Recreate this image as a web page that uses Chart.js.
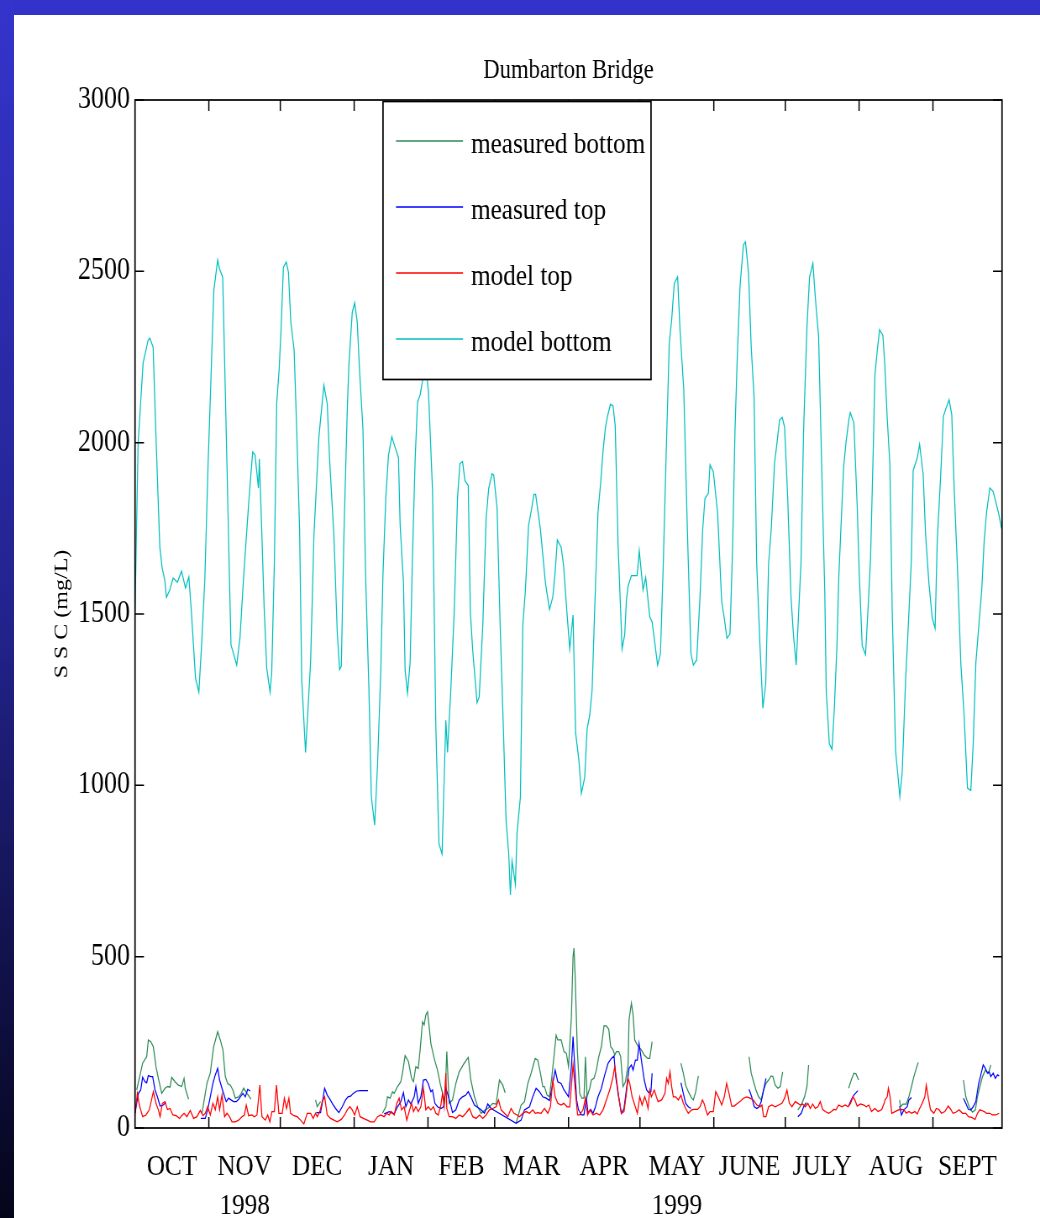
<!DOCTYPE html>
<html><head><meta charset="utf-8">
<script src="https://cdn.jsdelivr.net/npm/chart.js@4.4.1/dist/chart.umd.min.js"></script>
<style>
html,body{margin:0;padding:0;width:1040px;height:1218px;overflow:hidden;background:#fff;}
#wrap{position:absolute;left:0;top:0;height:1218px;transform-origin:0 0;}
#topbar{position:absolute;left:0;top:0;width:1040px;height:15px;background:#3333cc;}
#leftbar{position:absolute;left:0;top:0;width:14px;height:1218px;background:linear-gradient(#3434cc,#23238f 50%,#05051a);}
</style></head><body>
<div id="wrap"><canvas id="c"></canvas></div>
<div id="topbar"></div><div id="leftbar"></div>
<script>
// ---------- data ----------
const monthLabels = ['OCT','NOV','DEC','JAN','FEB','MAR','APR','MAY','JUNE','JULY','AUG','SEPT'];
const monthStarts = [0,31,61,92,123,151,182,212,243,273,304,335,364]; // days since 1 Oct 1998
const yearLabels = ['1998','1999'];
const yearMonthIndex = [1,7];
const yTicks = [0,500,1000,1500,2000,2500,3000];
const seriesLabels = ['measured bottom','measured top','model top','model bottom'];

// [day, SSC mg/L]; measured series are lists of continuous segments
const measuredBottom = [
 [[0.7,111],[3.2,189],[4.9,208],[5.6,257],[6.6,252],[7.7,237],[8.8,179],[9.8,145],[11.2,101],[12.6,116],[13.8,121],[14.7,119],[15.4,148],[16.8,135],[18.2,125],[19.6,121],[20.6,145],[21.1,116],[22.5,84]],
 [[28.1,43],[30.2,130],[31.6,160],[33,237],[34.7,281],[35.8,257],[36.9,228],[37.9,150],[38.9,130],[40,125],[41.1,111],[42.1,87],[43.5,91],[44.6,101],[45.6,116],[47,101],[48.7,84]],
 [[75.8,82],[76.5,62],[77.9,77]],
 [[103.9,43],[105.3,62],[106,91],[107.1,87],[108.1,106],[108.8,101],[110.2,121],[111.6,135],[112.3,160],[113.4,211],[114.8,194],[116.1,145],[116.9,135],[117.9,179],[118.9,174],[119.7,228],[120.7,310],[121.4,301],[122.1,330],[122.8,339],[123.5,296],[124.2,247],[125.6,203],[127,169],[128.1,130],[129.1,101],[130.1,77],[130.9,223],[131.9,72],[133.3,82],[134.7,130],[136.1,164],[138.2,189],[139.9,206],[141,140],[142.5,91],[143.9,62],[145.3,43],[146.7,51],[148.1,57],[150.2,72],[151.6,70],[153,140],[154.4,125],[155.4,103]],
 [[160,14],[162.1,67],[163.5,77],[164.9,130],[166.3,160],[168,203],[169.1,198],[170.2,160],[171.2,121],[171.9,121],[173,96],[174,91],[175,150],[175.9,208],[176.8,271],[177.5,257],[178.9,257],[180.1,223],[181.1,218],[182,179],[183.2,325],[183.9,500],[184.3,525],[184.8,442],[185.7,228],[186.7,101],[187.6,87],[188.5,87],[189.1,208],[189.8,91],[190.9,116],[191.6,140],[192.7,145],[193.7,169],[194.7,208],[195.8,237],[196.9,298],[197.9,298],[198.9,288],[199.7,237],[200.7,228],[201.4,213],[202.1,223],[203.1,223],[203.9,208],[204.9,121],[205.9,135],[207,184],[207.4,315],[208.4,364],[209.1,330],[209.8,257],[210.9,242],[212.6,228],[213.8,213],[215.2,203],[216.1,203],[217.1,252]],
 [[229.2,189],[230.2,160],[231.2,125],[232.3,106],[233.7,87],[234.4,82],[235.4,106],[236.5,152]],
 [[257.8,208],[258.7,160],[259.7,135],[260.7,111],[261.8,91],[262.9,82],[263.9,111],[264.9,130],[266,140],[267.1,152],[267.8,150],[268.8,125],[269.9,116],[270.9,121],[271.9,164]],
 [[278.3,53],[279.7,67],[281.1,91],[282.1,121],[282.8,184]],
 [[299.6,116],[300.7,140],[301.8,160],[302.7,158],[303.8,140]],
 [[321,82],[321.4,62],[322.4,70],[323.8,70],[324.9,91],[326,121],[327,150],[328,174],[328.8,191]],
 [[347.8,140],[348.8,91],[350.2,62],[351.6,46],[352.8,53],[353.7,91],[354.7,121],[355.8,150],[357,169],[358.3,160],[359.3,184]]
];

const measuredTop = [
 [[0,43],[1.4,101],[2.4,111],[3.2,148],[4.2,135],[4.9,132],[5.6,153],[6.6,150],[7.4,150],[8.4,111],[9.4,91],[10.5,64],[11.9,67],[12.9,74]],
 [[27.6,28],[29.5,28],[30.5,53],[31.6,91],[32.7,130],[33.7,155],[34.7,174],[35.5,140],[36.5,116],[37.6,91],[38.3,77],[39.3,87],[40.3,82],[41.4,77],[42.5,77],[43.5,84],[44.2,91],[45.3,101],[46.3,91],[47.3,113],[48.4,108]],
 [[76.1,45],[77.9,45],[78.6,72],[79.6,116],[80.7,96],[81.8,84],[82.8,72],[84.2,57],[85.6,45],[87,62],[88.4,82],[89.4,91],[90.5,93],[91.6,101],[93.1,108],[94.7,109],[97.8,109]],
 [[104.6,41],[106.7,48],[108.8,41],[110.2,62],[111.6,77],[112.7,103],[113.7,62],[114.8,82],[115.8,70],[117.2,91],[117.9,121],[118.9,72],[120,91],[121.1,140],[122.1,142],[123.1,130],[124.2,106],[124.9,111],[125.9,72],[127,62],[128.4,57],[129.5,62],[130.5,116],[131.2,101],[132.4,72],[133.3,45],[134.7,53],[136.1,82],[137.5,91],[138.9,96],[139.9,106],[141,91],[142.5,67],[143.9,60],[145.3,53],[146.7,43],[148.1,70],[149.5,57],[160,14],[162.1,23],[163.5,53],[165.6,62],[167,91],[168.4,116],[169.8,106],[171.2,91],[172.6,87],[174,80],[175.4,130],[176.4,169],[177.5,135],[178.9,130],[180.1,111],[181.1,101],[182,91],[183.2,179],[183.9,267],[185.4,82],[186.2,53],[187.4,38],[188.5,38],[189.5,87],[190.2,43],[191.3,54],[192.3,43],[193.3,62],[194.4,91],[195.8,116],[197.2,155],[198.6,189],[200,203],[201.1,210],[201.8,150],[202.8,101],[204.2,43],[205.3,57],[206.3,111],[207.4,174],[208.4,184],[209.1,169],[210.1,198],[210.9,198],[211.6,247],[212.6,198],[213.8,140],[214.8,111],[215.7,103],[216.6,106],[217.1,160]],
 [[229.2,132],[230.2,101],[231.2,72],[232.3,62],[233.4,57]],
 [[257.8,113],[258.9,91],[260,62],[261.1,57],[262,62],[262.9,77],[263.9,111],[264.9,145]],
 [[278.3,33],[279.7,43],[280.7,62],[281.8,74]],
 [[299.6,64],[300.7,82],[301.8,96],[303.5,109]],
 [[321,64],[321.8,38],[322.8,53],[324.2,62],[324.9,82],[326,89]],
 [[347.8,87],[348.8,72],[349.9,54],[350.9,53],[351.9,62],[353,77],[354.2,130],[355.1,155],[356.1,184],[357,174],[357.9,160],[358.6,164],[359.3,150],[360.3,160],[361.2,145],[362.1,155],[362.8,152]]
];

const modelTop = [[0,43],[1,101],[1.8,67],[3.2,33],[4.6,38],[6,53],[7.7,106],[8.8,72],[9.8,53],[10.5,33],[11.5,72],[12.6,77],[13.6,54],[14.7,57],[15.9,38],[17.3,36],[18.7,28],[19.6,36],[20.6,43],[21.8,33],[23.2,51],[24.6,28],[26,33],[27.4,51],[28.5,36],[29.5,43],[30.5,62],[31.6,38],[32.7,72],[33.7,53],[34.7,91],[35.5,53],[36.5,96],[37.6,33],[38.6,43],[39.7,33],[40.7,18],[42.1,18],[43.5,23],[44.9,33],[45.9,38],[46.7,67],[47.7,36],[49.1,38],[50.1,33],[51.2,38],[52.4,125],[53.3,33],[54.7,23],[55.7,38],[56.6,18],[57.5,48],[58.5,48],[59.4,125],[60.4,43],[61.8,43],[62.7,87],[63.6,57],[64.6,87],[65.3,43],[66.7,36],[68.1,33],[69.5,23],[70.9,12],[72.3,43],[73.7,43],[74.8,28],[75.8,43],[76.5,33],[77.6,48],[78.6,77],[79.6,91],[80.7,38],[82.1,28],[83.5,23],[84.9,18],[86.6,25],[88,38],[89.1,53],[90.2,62],[91.2,53],[92.2,38],[93.3,62],[94.5,33],[95.9,28],[97.5,23],[98.9,18],[100.4,18],[101.8,33],[103.2,38],[104.6,33],[105.7,43],[106.7,38],[107.6,48],[108.8,38],[109.9,72],[110.9,87],[111.9,53],[113,62],[114.1,23],[115.1,48],[116.1,72],[116.9,48],[117.9,62],[118.9,48],[120,62],[121.1,116],[122.1,53],[123.1,62],[124.2,53],[125.3,62],[126.3,43],[127.3,38],[128.4,67],[129.1,101],[129.8,62],[130.5,160],[130.9,57],[131.9,33],[133.3,33],[134.7,28],[136.1,38],[137.5,33],[138.9,43],[140.4,57],[141.8,33],[143.2,28],[144.6,38],[146,28],[147.4,38],[148.8,53],[150.2,57],[151.6,62],[152.6,82],[153.7,53],[155.1,43],[156.5,33],[157.9,57],[159.1,43],[160.4,38],[161.4,33],[162.8,43],[164.2,48],[165.6,43],[167,53],[168,43],[169.1,45],[170.5,43],[171.9,57],[173.3,43],[174.4,62],[175.4,140],[176.4,91],[177.5,72],[178.9,67],[180,72],[181.4,62],[182.5,62],[183.9,184],[185.8,38],[186.7,38],[188.1,53],[189.1,87],[190,38],[191,53],[192.3,38],[193.7,43],[195.1,38],[196.5,53],[197.9,82],[199.3,111],[200.7,150],[201.4,179],[202.1,145],[203.1,91],[204.2,43],[205.3,48],[206.3,101],[207,145],[207.7,130],[208.7,91],[209.8,67],[210.9,43],[211.9,91],[212.9,67],[214,91],[214.7,77],[215.4,57],[216.1,111],[216.8,91],[218,111],[218.9,91],[219.6,77],[221.1,82],[222.5,101],[223.2,145],[223.9,130],[224.6,164],[225.3,121],[226,91],[227,91],[228.1,82],[229.2,96],[230.2,72],[231.2,57],[232.3,43],[233.7,53],[234.8,54],[236.2,54],[237.2,62],[238.2,82],[239,70],[239.6,54],[240.4,38],[241.4,48],[242.8,48],[243.8,106],[244.9,91],[246.3,67],[247.4,91],[248.4,130],[249.4,101],[250.5,64],[251.6,64],[252.6,70],[254,77],[255.4,87],[256.8,91],[258.2,87],[259.6,82],[261.1,67],[262.5,62],[263.2,67],[263.9,33],[264.9,33],[266,62],[267.4,67],[268.8,62],[270.2,67],[271.6,72],[272.7,87],[273.7,111],[274.7,72],[275.8,62],[277.2,77],[278.3,72],[279.3,67],[280.3,70],[281.4,62],[282.5,72],[283.5,57],[284.5,70],[285.6,57],[286.7,62],[287.7,77],[288.7,54],[289.8,48],[291.2,43],[292.4,48],[293.3,54],[294.3,53],[295.4,67],[296.8,62],[298.2,67],[299.4,62],[300.4,72],[301.4,91],[302.2,82],[303.2,64],[304.6,70],[306,67],[307,62],[308.1,67],[309.2,48],[310.6,57],[312,48],[313.5,54],[314.5,72],[314.9,82],[315.8,91],[316.3,116],[317,91],[317.7,43],[319.1,48],[320.5,53],[321.8,54],[322.8,53],[323.8,43],[324.9,48],[326,43],[327.4,48],[328.4,41],[329.4,57],[330.5,72],[331.6,91],[332.2,125],[333,91],[334,53],[335.4,43],[336.4,57],[337.5,54],[338.6,43],[340,48],[341.4,64],[342.5,54],[343.4,43],[344.6,46],[346,53],[347.4,43],[348.8,43],[349.9,33],[351.3,31],[352.7,25],[353.7,43],[354.7,53],[355.5,51],[356.5,48],[357.5,43],[358.9,43],[360,38],[361.4,38],[362.8,43]];

const modelBottom = [[0,1510],[1.3,2000],[3.4,2232],[5.5,2299],[6.2,2305],[7.6,2279],[8.7,2037],[10.4,1695],[11.4,1634],[12.5,1599],[13.2,1549],[14.6,1570],[16,1605],[17.8,1593],[19.5,1625],[21.2,1576],[22.6,1608],[23.7,1503],[25.4,1313],[26.8,1272],[27.9,1404],[29.3,1599],[30.7,1940],[32.1,2232],[33.1,2445],[34.7,2533],[35.4,2509],[36.8,2483],[37.8,2183],[39.2,1745],[40.3,1409],[41.3,1386],[42.7,1351],[44.1,1433],[45.5,1599],[47.6,1812],[49.4,1973],[50.4,1964],[51.8,1868],[52.2,1952],[53.2,1745],[54.2,1520],[55.3,1342],[56.7,1272],[57.4,1328],[58.5,1649],[59.5,2116],[60.5,2212],[61.3,2329],[62.3,2512],[63.5,2527],[64.4,2498],[65.4,2352],[66.8,2270],[67.9,2037],[69.1,1745],[70,1307],[71.6,1096],[73.7,1358],[75.1,1727],[77.2,2017],[79.3,2168],[80.7,2113],[81.7,1950],[83.5,1727],[84.9,1448],[85.9,1338],[86.6,1347],[87.7,1727],[89.1,2095],[89.8,2229],[91.2,2380],[92.2,2408],[93.3,2352],[94.3,2207],[95.7,2040],[96.8,1615],[98.2,1281],[99.2,968],[100.6,884],[101.8,1057],[103.2,1336],[104.1,1615],[105.3,1839],[106.4,1962],[107.8,2017],[108.8,1995],[110.6,1956],[111.3,1760],[112.7,1593],[113.4,1336],[114.4,1269],[115.5,1358],[116.5,1671],[117.6,1950],[118.6,2118],[119.7,2140],[120.7,2180],[121.6,2250],[123.2,2150],[124.9,1862],[126.3,1169],[127.6,830],[128.9,800],[130.5,1190],[131.2,1096],[132.6,1281],[134,1504],[135.4,1839],[136.4,1939],[137.5,1945],[138.5,1889],[139.9,1875],[140.8,1504],[141.8,1392],[143.6,1241],[144.5,1258],[146,1466],[147.4,1779],[148.5,1867],[149.9,1909],[150.6,1905],[152,1810],[153.3,1466],[154.7,1153],[155.8,893],[156.9,800],[157.6,680],[158.3,779],[159.7,711],[160.4,862],[161.8,966],[162.8,1466],[163.9,1570],[165.2,1758],[166.3,1799],[167.5,1849],[168.2,1849],[170.2,1747],[172.3,1591],[174,1513],[175.4,1549],[176.4,1622],[177.3,1716],[178.9,1695],[179.9,1643],[181.3,1508],[182.5,1398],[183.9,1497],[185,1153],[186.4,1070],[187.4,976],[188.8,1023],[189.8,1164],[190.9,1205],[191.9,1278],[193,1518],[194.4,1799],[195.5,1883],[196.5,1976],[197.5,2044],[198.3,2075],[199.6,2112],[200.7,2107],[201.6,2049],[202.8,1706],[204.5,1398],[205.6,1440],[206.3,1539],[207,1581],[208.4,1612],[210.8,1612],[211.7,1685],[213.3,1570],[214.4,1607],[216.1,1492],[217.1,1477],[219.4,1351],[220.6,1385],[221.8,1648],[222.9,1940],[224.3,2290],[225.3,2358],[226.4,2465],[227.8,2484],[228.8,2329],[230.4,2154],[231.9,1745],[233.4,1385],[234.4,1351],[235.8,1366],[237.2,1550],[238.3,1745],[239.3,1837],[240.7,1852],[241.4,1935],[242.8,1915],[244.6,1794],[246.3,1536],[247.5,1482],[248.5,1429],[249.8,1442],[250.9,1696],[251.9,2037],[252.9,2261],[254,2455],[255.4,2577],[256.3,2586],[257.6,2494],[258.7,2280],[259.9,2134],[261,1648],[262.4,1404],[263.6,1225],[264.8,1298],[266,1648],[267.1,1745],[268.5,1940],[269.5,1998],[270.6,2066],[271.7,2074],[272.7,2046],[274,1842],[275.4,1550],[276.5,1434],[277.6,1351],[278.6,1502],[279.6,1648],[280.7,2037],[282.1,2338],[283.2,2484],[284.6,2523],[285.6,2426],[287,2309],[288.4,1900],[289.6,1560],[290.2,1274],[291.5,1121],[292.6,1105],[293.6,1223],[294.7,1407],[295.5,1612],[296.4,1755],[297.5,1929],[298.5,2001],[299.7,2067],[300.3,2088],[301.8,2057],[303.2,1816],[304.1,1612],[305.3,1407],[306.7,1381],[307.7,1509],[308.8,1663],[309.9,1970],[310.6,2195],[311.6,2267],[312.6,2330],[314,2313],[314.8,2226],[315.8,2072],[316.9,1939],[317.9,1509],[319.3,1100],[320.3,1028],[321.1,967],[322.1,1038],[323.5,1304],[324.6,1458],[325.9,1652],[326.7,1919],[328.4,1955],[329.4,1995],[330.9,1908],[331.9,1734],[333.3,1591],[334.7,1489],[335.9,1458],[336.8,1714],[338.2,1898],[339.4,2077],[340.6,2103],[341.8,2125],[342.9,2082],[343.9,1868],[345.3,1632],[346.7,1356],[348.1,1202],[349.5,992],[350.9,985],[351.9,1120],[353,1356],[354.4,1479],[355.5,1571],[356.5,1714],[357.5,1796],[358.9,1868],[360.3,1857],[361.4,1827],[362.5,1796],[363.8,1750]];

// ---------- layout (visual px; canvas is drawn wide and condensed horizontally) ----------
const CW = 1238, CH = 1218, SX = 1040 / CW;
const cx = v => v / SX;
const wrap = document.getElementById('wrap');
wrap.style.width = CW + 'px';
wrap.style.transform = 'scaleX(' + SX + ')';
const canvas = document.getElementById('c');
canvas.width = CW; canvas.height = CH;
canvas.style.width = CW + 'px'; canvas.style.height = CH + 'px';

const FONT = 'Liberation Serif';
const pts = arr => arr.map(p => ({x: p[0], y: p[1]}));
const segs = list => {
  const out = [];
  list.forEach((s, i) => {
    if (i > 0) out.push({x: (list[i-1][list[i-1].length-1][0] + s[0][0]) / 2, y: null});
    out.push(...pts(s));
  });
  return out;
};
const monthMids = monthLabels.map((m, i) => (monthStarts[i] + monthStarts[i+1]) / 2);
const xLabels = monthLabels.map((m, i) => {
  const k = yearMonthIndex.indexOf(i);
  return k >= 0 ? [m, yearLabels[k]] : m;
});

const colors = ['#2e8b57', '#0000ff', '#ff0000', '#00bfbf'];

const framePlugin = {
  id: 'frame',
  afterDatasetsDraw(chart) {
    const {ctx, chartArea: a, scales: {x, y}} = chart;
    ctx.save();
    ctx.strokeStyle = '#000';
    ctx.lineWidth = 1.5;
    ctx.beginPath();
    monthStarts.slice(1, -1).forEach(d => {
      const px = x.getPixelForValue(d);
      ctx.moveTo(px, a.bottom); ctx.lineTo(px, a.bottom - 11);
      ctx.moveTo(px, a.top); ctx.lineTo(px, a.top + 11);
    });
    yTicks.forEach(v => {
      const py = y.getPixelForValue(v);
      ctx.moveTo(a.left, py); ctx.lineTo(a.left + cx(9), py);
      ctx.moveTo(a.right, py); ctx.lineTo(a.right - cx(9), py);
    });
    ctx.stroke();
    ctx.lineWidth = 1.7;
    ctx.strokeRect(a.left, a.top, a.right - a.left, a.bottom - a.top);

    // legend box (opaque, like the original)
    const L = {x0: cx(383), x1: cx(651), y0: 101.5, y1: 379.5};
    ctx.fillStyle = '#fff';
    ctx.fillRect(L.x0, L.y0, L.x1 - L.x0, L.y1 - L.y0);
    ctx.lineWidth = 1.7;
    ctx.strokeRect(L.x0, L.y0, L.x1 - L.x0, L.y1 - L.y0);
    ctx.font = '30px "' + FONT + '"';
    ctx.textBaseline = 'alphabetic';
    ctx.textAlign = 'left';
    chart.data.datasets.forEach((ds, i) => {
      const ly = 141 + i * 66;
      ctx.strokeStyle = ds.borderColor;
      ctx.lineWidth = 1.6;
      ctx.beginPath(); ctx.moveTo(cx(396), ly); ctx.lineTo(cx(463), ly); ctx.stroke();
      ctx.fillStyle = '#000';
      ctx.fillText(ds.label, cx(471), ly + 12);
    });
    ctx.restore();
  }
};

const mk = (label, data, color, order) => ({
  label, data, borderColor: color, backgroundColor: color, borderWidth: 1.25,
  pointRadius: 0, tension: 0, spanGaps: false, fill: false, order
});

new Chart(canvas, {
  type: 'line',
  data: {
    datasets: [
      mk(seriesLabels[0], segs(measuredBottom), colors[0], 4),
      mk(seriesLabels[1], segs(measuredTop), colors[1], 3),
      mk(seriesLabels[2], pts(modelTop), colors[2], 2),
      mk(seriesLabels[3], pts(modelBottom), colors[3], 1)
    ]
  },
  options: {
    responsive: false,
    animation: false,
    events: [],
    layout: {padding: {left: 0, right: cx(38), top: 0, bottom: 0}},
    plugins: {
      legend: {display: false},
      tooltip: {enabled: false},
      title: {
        display: true, text: 'Dumbarton Bridge', fullSize: false, color: '#000',
        font: {family: FONT, size: 27, weight: 'normal', lineHeight: 1.2},
        padding: {top: 55, bottom: 12.6}
      }
    },
    scales: {
      x: {
        type: 'linear', position: 'bottom', min: monthStarts[0], max: monthStarts[monthStarts.length-1],
        grid: {display: false, drawTicks: false}, border: {display: false},
        afterBuildTicks: s => { s.ticks = monthMids.map(v => ({value: v})); },
        afterFit: s => { s.height = 90; },
        ticks: {
          autoSkip: false, maxRotation: 0, minRotation: 0, padding: 19.5, color: '#000',
          font: {family: FONT, size: 30, lineHeight: 1.3},
          callback: (v, i) => xLabels[i]
        }
      },
      y: {
        type: 'linear', position: 'left', min: 0, max: 3000,
        grid: {display: false, drawTicks: false}, border: {display: false},
        afterBuildTicks: s => { s.ticks = yTicks.map(v => ({value: v})); },
        afterFit: s => { s.width = cx(135); },
        ticks: {
          padding: cx(5), color: '#000',
          font: {family: FONT, size: 31},
          callback: v => String(v)
        },
        title: {
          display: true, text: 'S S C (mg/L)', color: '#000',
          font: {family: FONT, size: 24, lineHeight: 1.2},
          padding: {top: cx(62) - 14.4, bottom: 0}
        }
      }
    }
  },
  plugins: [framePlugin]
});
</script>
</body></html>
